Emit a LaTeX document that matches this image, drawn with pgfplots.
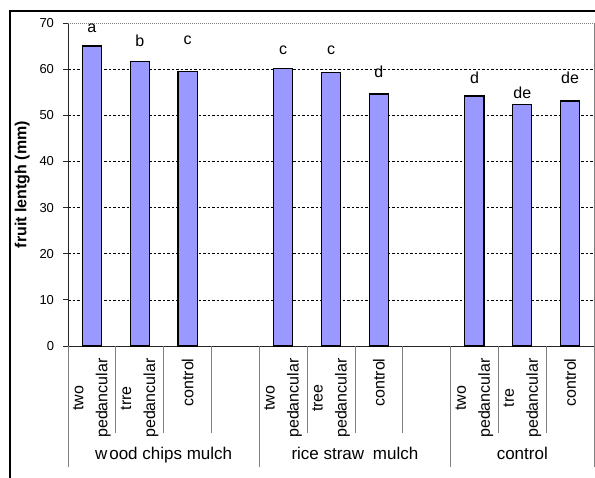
\documentclass[border=0pt]{standalone}
\usepackage{pgfplots}
\pgfplotsset{compat=1.18}
\usepackage{fontspec}
\setmainfont{Liberation Sans}
\definecolor{barblue}{HTML}{9999FF}
\definecolor{sepgray}{HTML}{7F7F7F}

\begin{document}
\begin{tikzpicture}
\path[use as bounding box] (0bp,0bp) rectangle (595bp,478bp);
% chart frame (top and left edges)
\draw[line width=1.8bp] (10bp,-5bp) -- (10bp,467bp) -- (600bp,467bp);
\begin{axis}[
  at={(68bp,132bp)}, anchor=south west,
  scale only axis, width=526bp, height=323bp,
  xmin=0, xmax=11, ymin=0, ymax=70,
  axis lines*=left,
  axis line style={black!85, line width=0.9bp},
  clip=false,
  ytick={0,10,...,70},
  ymajorgrids,
  grid style={black, line width=0.6bp, dash pattern=on 2.5bp off 2bp},
  /pgf/number format/assume math mode=true,
  y tick label style={font=\fontsize{13bp}{15bp}\selectfont, xshift=-5.5bp},
  ytick style={black!85, line width=0.9bp},
  tick align=outside, major tick length=5bp,
  xtick={0.5,1.5,2.5,4.5,5.5,6.5,8.5,9.5,10.5},
  xticklabels={{two\\pedancular},{trre\\pedancular},{control},
               {two\\pedancular},{tree\\pedancular},{control},
               {two\\pedancular},{tre\\pedancular},{control}},
  xticklabel shift=4bp,
  x tick label style={rotate=90, anchor=east, align=center,
                      font=\fontsize{16bp}{24bp}\selectfont},
  xtick style={draw=none},
  ylabel={fruit lentgh (mm)},
  ylabel style={at={(axis description cs:-0.066,0.5)}, anchor=south,
                font=\bfseries\fontsize{16bp}{18bp}\selectfont},
]
% fruit length per treatment
\addplot[ybar, bar width=0.4, fill=barblue, draw=black, line width=1.2bp]
  coordinates {(0.5,65.0) (1.5,61.7) (2.5,59.5)
               (4.5,60.1) (5.5,59.3) (6.5,54.6)
               (8.5,54.2) (9.5,52.4) (10.5,53.1)};
% significance letters
\addplot[draw=none, mark=none, nodes near coords, point meta=explicit symbolic,
  every node near coord/.append style={anchor=center,
    font=\fontsize{16bp}{18bp}\selectfont}]
  table[meta=lbl] {
x y lbl
0.5 68.9 a
1.5 66.2 b
2.5 66.2 c
4.5 64.0 c
5.5 64.0 c
6.5 59.4 d
8.5 58.2 d
9.5 54.9 de
10.5 58.2 de
};
% plot-area border (top and right)
\draw[white, line width=1.2bp] (rel axis cs:0,1) -- (rel axis cs:1,1);
\draw[sepgray, line width=0.9bp, dash pattern=on 1bp off 1bp] (rel axis cs:0,1) -- (rel axis cs:1,1);
\draw[sepgray, line width=0.8bp] (rel axis cs:1,1) -- (rel axis cs:1,0);
% x axis runs slightly past the value axis
\draw[black!85, line width=0.9bp] (axis cs:0,0) -- ++(-5bp,0bp);
% category separators
\pgfplotsinvokeforeach{1,2,3,5,6,7,9,10}{
  \draw[sepgray, line width=0.8bp] (axis cs:#1,0) -- ++(0bp,-87bp);
}
\pgfplotsinvokeforeach{0,4,8,11}{
  \draw[sepgray, line width=0.8bp] (axis cs:#1,0) -- ++(0bp,-121bp);
}
% group labels
\node[anchor=base, font=\fontsize{17bp}{19bp}\selectfont]
  at ([yshift=-113bp]axis cs:2,0) {w\kern2bp ood chips mulch};
\node[anchor=base, font=\fontsize{17bp}{19bp}\selectfont]
  at ([yshift=-113bp]axis cs:6,0) {rice straw\kern4bp\ mulch};
\node[anchor=base, font=\fontsize{17bp}{19bp}\selectfont]
  at ([yshift=-113bp]axis cs:9.5,0) {control};
\end{axis}
\end{tikzpicture}
\end{document}
